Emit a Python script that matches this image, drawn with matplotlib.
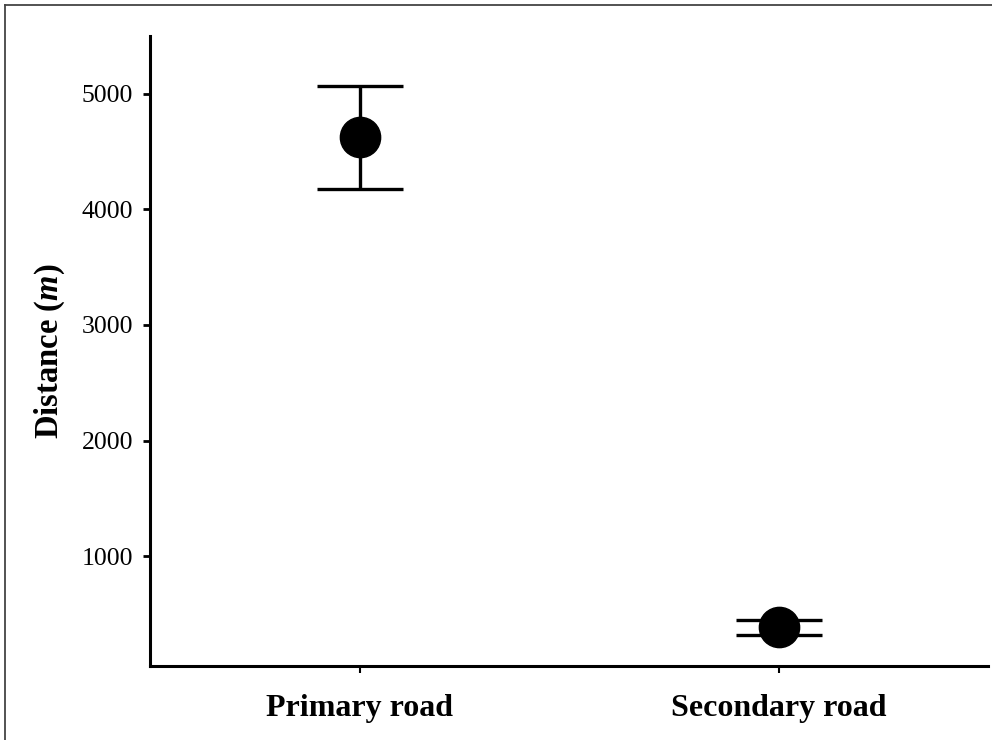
import matplotlib.pyplot as plt
from matplotlib.lines import Line2D

plt.rcParams['font.family'] = ['Liberation Serif', 'DejaVu Serif']
plt.rcParams['mathtext.fontset'] = 'custom'
plt.rcParams['mathtext.rm'] = 'Liberation Serif:bold'
plt.rcParams['mathtext.it'] = 'Liberation Serif:italic:bold'

# data
roads = ['Primary road', 'Secondary road']
mean_dist = [4628, 387]
upper = [5068, 450]
lower = [4179, 320]

err_low = [m - l for m, l in zip(mean_dist, lower)]
err_high = [u - m for m, u in zip(mean_dist, upper)]
xpos = list(range(1, len(roads) + 1))

fig = plt.figure(figsize=(9.92, 7.40), dpi=100)
ax = fig.add_axes([150 / 992, 74 / 740, 838 / 992, 630 / 740])

ax.errorbar(xpos, mean_dist, yerr=[err_low, err_high], fmt='o', color='black',
            markersize=29, elinewidth=2.4, capsize=31, capthick=2.4)

ax.set_xlim(0.5, 2.5)
ax.set_ylim(50, 5500)
ax.set_yticks([1000, 2000, 3000, 4000, 5000])
ax.set_xticks(xpos)
ax.set_xticklabels(roads, fontsize=23, fontweight='bold')
ax.tick_params(axis='y', labelsize=18.5, length=5, width=2, pad=7)
ax.tick_params(axis='x', length=5, width=1.5, pad=15)

ax.spines['top'].set_visible(False)
ax.spines['right'].set_visible(False)
ax.spines['left'].set_linewidth(2.2)
ax.spines['bottom'].set_linewidth(2.2)

ax.set_ylabel(r'Distance ($m$)', fontsize=23.5, fontweight='bold', labelpad=11)

# grey frame lines (top and left only) around the figure
frame_col = '#444444'
fig.add_artist(Line2D([4.5 / 992, 4.5 / 992], [0, 1 - 5 / 740],
                      transform=fig.transFigure, color=frame_col, lw=1.3))
fig.add_artist(Line2D([4.5 / 992, 1], [1 - 5 / 740, 1 - 5 / 740],
                      transform=fig.transFigure, color=frame_col, lw=1.3))

fig.savefig('out.png', dpi=100)
